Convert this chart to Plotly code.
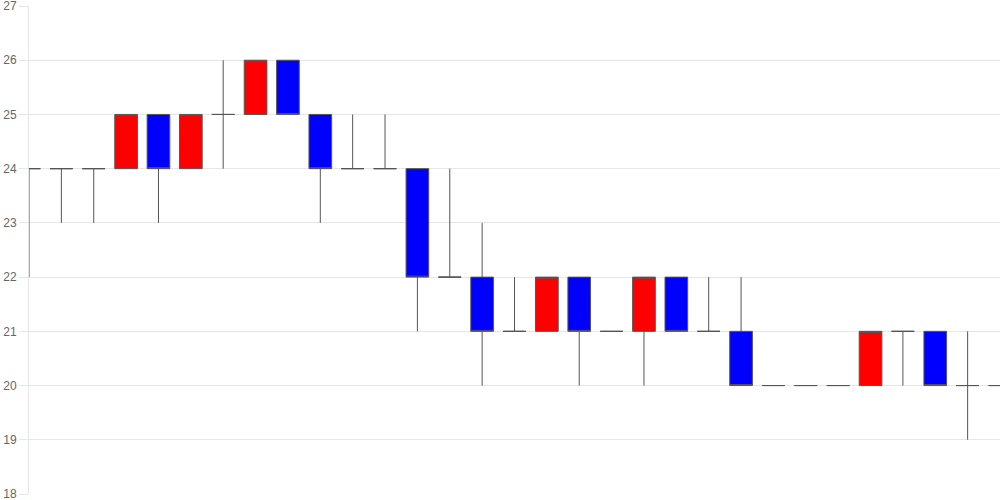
import plotly.graph_objects as go

# one candle per period
periods = list(range(31))
opens = [24, 24, 24, 24, 25, 24, 25, 25, 26, 25, 24, 24, 24, 22, 22, 21,
         21, 22, 21, 21, 22, 21, 21, 20, 20, 20, 20, 21, 21, 20, 20]
highs = [24, 24, 24, 25, 25, 25, 26, 26, 26, 25, 25, 25, 24, 24, 23, 22,
         22, 22, 21, 22, 22, 22, 22, 20, 20, 20, 21, 21, 21, 21, 20]
lows = [22, 23, 23, 24, 23, 24, 24, 25, 25, 23, 24, 24, 21, 22, 20, 21,
        21, 20, 21, 20, 21, 21, 20, 20, 20, 20, 20, 20, 20, 19, 20]
closes = [24, 24, 24, 25, 24, 25, 25, 26, 25, 24, 24, 24, 22, 22, 21, 21,
          22, 21, 21, 22, 21, 21, 20, 20, 20, 20, 21, 21, 20, 20, 20]

fig = go.Figure()
fig.add_trace(go.Candlestick(
    x=periods, open=opens, high=highs, low=lows, close=closes,
    increasing=dict(fillcolor="#ff0000", line=dict(color="#555555", width=1)),
    decreasing=dict(fillcolor="#0000ff", line=dict(color="#555555", width=1)),
    whiskerwidth=0,
    hoverinfo="x+y",
))

fig.update_layout(
    width=1000, height=500,
    margin=dict(l=29, r=0, t=6, b=6),
    paper_bgcolor="white", plot_bgcolor="white",
    showlegend=False,
    boxgap=0.3, boxgroupgap=0,
    font=dict(family="Liberation Sans, Arial, sans-serif", size=12, color="#666666"),
    xaxis=dict(range=[0, 30], showticklabels=False, showgrid=False, zeroline=False,
               rangeslider=dict(visible=False), showline=False, fixedrange=True,
               automargin=False),
    yaxis=dict(range=[18, 27], dtick=1, showgrid=True, gridcolor="#e6e6e6", gridwidth=1,
               zeroline=False, showline=True, linecolor="#e6e6e6", linewidth=1,
               ticks="outside", ticklen=9, tickcolor="#e6e6e6",
               tickfont=dict(size=12, color="#666666"), fixedrange=True,
               automargin=False, ticklabeloverflow="allow"),
)

# page body has a default 8px margin; drop it so the figure sits at the corner
fig.write_html("out.html", config={"displayModeBar": False},
               post_script="document.body.style.margin='0';")
